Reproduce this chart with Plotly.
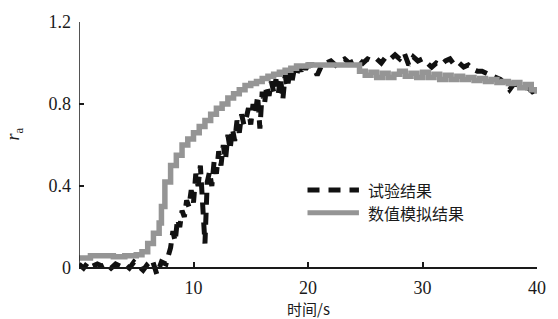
import plotly.graph_objects as go

# Numerical simulation (gray, stepped)
sim_t = [0, 1, 2, 3, 4, 5, 5.5, 6, 6.5, 7, 7.2, 7.5, 8, 8.5, 9, 9.5, 10, 10.5, 11, 11.5,
         12, 12.5, 13, 13.5, 14, 14.5, 15, 15.5, 16, 16.5, 17, 17.5, 18, 18.5, 19, 20,
         21, 22, 23, 24, 24.5, 25, 25.5, 26, 26.5, 27, 27.5, 28, 28.5, 29, 29.5, 30,
         30.5, 31, 31.5, 32, 32.5, 33, 33.5, 34, 34.5, 35, 35.5, 36, 36.5, 37, 37.5,
         38, 38.5, 39, 39.5, 40]
sim_v = [0.05, 0.06, 0.06, 0.055, 0.06, 0.065, 0.08, 0.12, 0.17, 0.22, 0.30, 0.42, 0.50,
         0.55, 0.60, 0.63, 0.66, 0.69, 0.72, 0.75, 0.78, 0.80, 0.83, 0.85, 0.87, 0.89,
         0.90, 0.91, 0.925, 0.935, 0.945, 0.955, 0.965, 0.975, 0.985, 0.99, 0.99, 0.99,
         0.99, 0.99, 0.96, 0.94, 0.955, 0.93, 0.95, 0.93, 0.945, 0.96, 0.935, 0.95, 0.93,
         0.955, 0.93, 0.945, 0.92, 0.94, 0.92, 0.935, 0.92, 0.93, 0.915, 0.925, 0.91,
         0.92, 0.905, 0.91, 0.90, 0.905, 0.88, 0.895, 0.87, 0.85]

# Experimental results (black, dashed)
exp_t = [0.0, 0.4, 0.8, 1.2, 1.6, 2.0, 2.4, 2.8, 3.2, 3.6, 4.0, 4.4, 4.8, 5.2, 5.6, 6.0,
         6.4, 6.8, 7.2, 7.6, 7.8, 8.0, 8.2, 8.4, 8.6, 8.8, 9.0, 9.2, 9.4, 9.6, 9.8, 10.0,
         10.2, 10.4, 10.6, 10.8, 11.0, 11.2, 11.4, 11.6, 11.8, 12.0, 12.2, 12.4, 12.6,
         12.8, 13.0, 13.2, 13.4, 13.6, 13.8, 14.0, 14.2, 14.4, 14.6, 14.8, 15.0, 15.2,
         15.4, 15.6, 15.8, 16.0, 16.2, 16.4, 16.6, 16.8, 17.0, 17.2, 17.4, 17.6, 17.8,
         18.0, 18.2, 18.4, 18.6, 18.8, 19.0, 19.2, 19.4, 19.6, 19.8, 20.0, 20.4, 20.8,
         21.2, 21.6, 22.0, 22.4, 22.8, 23.2, 23.6, 24.0, 24.4, 24.8, 25.2, 25.6, 26.0,
         26.4, 26.8, 27.2, 27.6, 28.0, 28.4, 28.8, 29.2, 29.6, 30.0, 30.4, 30.8, 31.2,
         31.6, 32.0, 32.4, 32.8, 33.2, 33.6, 34.0, 34.4, 34.8, 35.2, 35.6, 36.0, 36.4,
         36.8, 37.2, 37.6, 38.0, 38.4, 38.8, 39.2, 39.6, 40.0]
exp_v = [0.02, 0.0, 0.03, 0.01, 0.02, 0.01, 0.02, 0.0, 0.02, 0.01, 0.02, 0.0, 0.03, 0.01,
         -0.01, 0.02, 0.04, -0.03, 0.03, 0.02, 0.06, 0.10, 0.18, 0.13, 0.24, 0.20, 0.28,
         0.25, 0.33, 0.30, 0.38, 0.32, 0.46, 0.40, 0.50, 0.35, 0.12, 0.42, 0.47, 0.40,
         0.52, 0.46, 0.57, 0.50, 0.60, 0.53, 0.65, 0.58, 0.68, 0.62, 0.72, 0.66, 0.75,
         0.70, 0.73, 0.78, 0.70, 0.80, 0.75, 0.84, 0.68, 0.86, 0.80, 0.89, 0.84, 0.91,
         0.86, 0.92, 0.85, 0.93, 0.82, 0.94, 0.88, 0.95, 0.91, 0.97, 0.94, 0.98, 0.96,
         0.99, 0.97, 0.99, 0.99, 0.94, 0.99, 1.00, 1.01, 0.99, 1.01, 1.02, 1.00, 1.01,
         1.02, 1.00, 1.02, 1.01, 1.02, 1.00, 1.03, 1.02, 1.04, 1.02, 1.05, 0.99, 1.03,
         1.01, 1.02, 1.00, 0.98, 1.00, 0.99, 1.01, 1.02, 0.99, 1.00, 0.98, 0.99, 0.97,
         0.96, 0.96, 0.95, 0.94, 0.93, 0.92, 0.90, 0.87, 0.90, 0.89, 0.88, 0.88, 0.86,
         0.87]

series_names = ["试验结果", "数值模拟结果"]
x_ticks = [10, 20, 30, 40]
y_ticks = [0, 0.4, 0.8, 1.2]
y_ticktext = ["0", "0.4", "0.8", "1.2"]

serif = "'Liberation Serif', 'Times New Roman', serif"
cjk = "'Noto Sans CJK SC', sans-serif"
ink = "#1a1a1a"
black = "#111111"
gray = "#959595"

fig = go.Figure()
fig.add_trace(go.Scatter(
    x=exp_t, y=exp_v, mode="lines", name=series_names[0], showlegend=False,
    line=dict(color=black, width=5, dash="12px,8px"),
))
fig.add_trace(go.Scatter(
    x=sim_t, y=sim_v, mode="lines", name=series_names[1], line_shape="hv",
    showlegend=False, line=dict(color=gray, width=5.5),
))

W, H = 558, 319
ml, mr, mt, mb = 79, 16, 19, 39
plot_w = W - ml - mr
plot_h = H - mt - mb
y_per = (268 - 19) / 1.2
axis_off = (H - mb) - 268
ymin = -axis_off / y_per


def px_x(px):
    return (px - ml) / plot_w


def px_y(py):
    return (H - mb - py) / plot_h


# manual legend
legend_rows = [189, 212]
legend_shapes = [
    dict(type="line", xref="paper", yref="paper", x0=px_x(310), x1=px_x(362),
         y0=px_y(legend_rows[0]), y1=px_y(legend_rows[0]),
         line=dict(color=black, width=5, dash="12px,9px")),
    dict(type="line", xref="paper", yref="paper", x0=px_x(310), x1=px_x(362),
         y0=px_y(legend_rows[1]), y1=px_y(legend_rows[1]),
         line=dict(color=gray, width=5)),
]
legend_ann = [
    dict(text=series_names[i], xref="paper", yref="paper", x=px_x(369),
         y=px_y(legend_rows[i]), xanchor="left", yanchor="middle", showarrow=False,
         font=dict(family=cjk, size=16, color=ink))
    for i in range(2)
]

fig.update_layout(
    width=W, height=H,
    margin=dict(l=ml, r=mr, t=mt, b=mb, pad=0),
    paper_bgcolor="white", plot_bgcolor="white",
    font=dict(family=serif, size=18, color=ink),
    showlegend=False,
    xaxis=dict(
        range=[0, 40], showgrid=False, zeroline=False,
        showline=True, linecolor=ink, linewidth=1.5,
        anchor="free", position=axis_off / plot_h,
        ticks="inside", ticklen=5, tickwidth=1.5, tickcolor=ink,
        tickvals=x_ticks, ticktext=[str(v) for v in x_ticks],
        tickfont=dict(family=serif, size=18, color=ink), ticklabelstandoff=4,
    ),
    yaxis=dict(
        range=[ymin, 1.2], showgrid=False, zeroline=False, showline=False,
        ticks="inside", ticklen=5, tickwidth=1.5, tickcolor=ink,
        tickvals=y_ticks, ticktext=y_ticktext,
        tickfont=dict(family=serif, size=18, color=ink), ticklabelstandoff=7,
    ),
    shapes=[dict(type="line", xref="x", yref="y", x0=0, x1=0, y0=0, y1=1.2,
                 line=dict(color=ink, width=1.5))] + legend_shapes,
    annotations=[
        dict(text="时间/s", xref="paper", yref="paper", x=px_x(311), y=px_y(309),
             xanchor="center", yanchor="middle", showarrow=False,
             font=dict(family=cjk, size=15, color=ink)),
        dict(text="<i>r</i><sub>a</sub>", xref="paper", yref="paper",
             x=px_x(14), xanchor="center", y=px_y(132), yanchor="middle",
             textangle=-90, showarrow=False,
             font=dict(family=serif, size=18, color=ink)),
    ] + legend_ann,
)

fig.write_html("out.html")
